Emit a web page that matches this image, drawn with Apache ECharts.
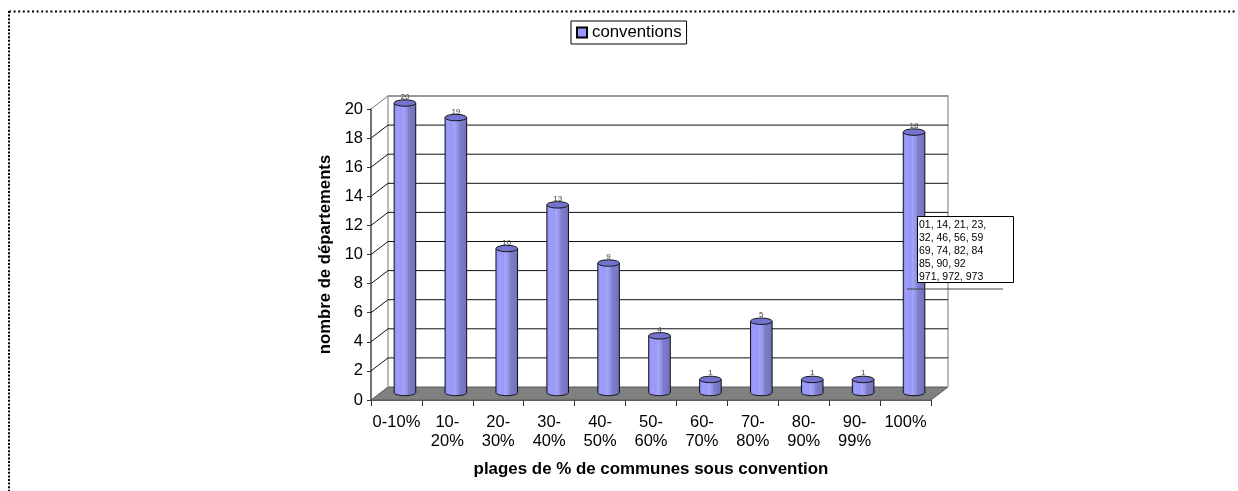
<!DOCTYPE html>
<html><head><meta charset="utf-8">
<style>html,body{margin:0;padding:0;background:#fff}#c{width:1238px;height:491px}</style>
<script src="https://cdn.jsdelivr.net/npm/echarts@6/dist/echarts.min.js"></script>
</head><body><div id="c"></div>
<script>
const categories = ['0-10%','10-\n20%','20-\n30%','30-\n40%','40-\n50%','50-\n60%','60-\n70%','70-\n80%','80-\n90%','90-\n99%','100%'];
const conventions = [20,19,10,13,9,4,1,5,1,1,18];
const yTicks = [0,2,4,6,8,10,12,14,16,18,20];
const noteLines = ['01, 14, 21, 23,','32, 46, 56, 59','69, 74, 82, 84','85, 90, 92','971, 972, 973'];
const FONT = '"Liberation Sans", Arial, sans-serif';
const DX = 17, DY = 13;
const chart = echarts.init(document.getElementById('c'), null, {renderer:'canvas'});
const bodyFill = {type:'linear',x:0,y:0,x2:1,y2:0,colorStops:[
 {offset:0,color:'#9090f0'},{offset:0.15,color:'#9c9cff'},{offset:0.38,color:'#9898f6'},
 {offset:0.40,color:'#a8a8f6'},{offset:0.50,color:'#9c9cf0'},{offset:0.62,color:'#8e8ee2'},
 {offset:0.64,color:'#8080cc'},{offset:1,color:'#7070bc'}]};
function wall(params, api){
  const c = params.coordSys, x0=c.x, x1=c.x+c.width;
  const v = yTicks[params.dataIndex], y = api.coord([0,v])[1];
  const kids = [];
  if(params.dataIndex===0){
    const t = c.y-DY, b = c.y+c.height-DY, f = c.y+c.height;
    kids.push({type:'polygon',shape:{points:[[x0,f],[x0+DX,b],[x1+DX,b],[x1,f]]},style:{fill:'#808080',stroke:'#5a5a5a',lineWidth:1}});
    kids.push({type:'polyline',shape:{points:[[x0+DX,b],[x0+DX,t],[x1+DX,t],[x1+DX,b]]},style:{fill:'none',stroke:'#aaaaaa',lineWidth:1.6}});
  } else {
    kids.push({type:'polyline',shape:{points:[[x0,y],[x0+DX,y-DY],[x1+DX,y-DY]]},style:{fill:'none',stroke:v===20?'#777':'#111',lineWidth:1}});
  }
  return {type:'group',children:kids};
}
function bar(params, api){
  const i = api.value(0), v = api.value(1);
  const bw = api.size([1,0])[0];
  const p = api.coord([i,v]), o = api.coord([i,0]);
  const cx = p[0]+8.5, r = bw*0.212, ry = 3.2;
  const top = p[1]-6, base = o[1]-7.5;
  const S = {stroke:'#111',lineWidth:1};
  return {type:'group',children:[
    {type:'ellipse',shape:{cx:cx,cy:base,rx:r,ry:ry},style:Object.assign({fill:bodyFill},S)},
    {type:'rect',shape:{x:cx-r,y:top,width:2*r,height:base-top},style:{fill:bodyFill}},
    {type:'line',shape:{x1:cx-r,y1:top,x2:cx-r,y2:base},style:S},
    {type:'line',shape:{x1:cx+r,y1:top,x2:cx+r,y2:base},style:S},
    {type:'ellipse',shape:{cx:cx,cy:top,rx:r,ry:ry},style:Object.assign({fill:'#7474cf'},S)},
    {type:'text',style:{text:String(v),x:cx,y:top-ry+1,align:'center',verticalAlign:'bottom',font:'8px '+FONT,fill:'#444'}}
  ]};
}
chart.setOption({
  animation:false,
  backgroundColor:'#fff',
  legend:{data:['conventions'],left:571,top:21,padding:[3,5,3,5],itemWidth:10,itemHeight:10,itemGap:5,
    borderColor:'#000',borderWidth:1,backgroundColor:'#fff',borderRadius:0,
    textStyle:{fontFamily:FONT,fontSize:16.8,color:'#000'},icon:'rect'},
  grid:{left:371,top:109,width:560,height:291,containLabel:false},
  xAxis:{type:'category',data:categories,
    axisLine:{lineStyle:{color:'#333',width:1.5}},
    axisTick:{show:true,length:6,lineStyle:{color:'#333',width:1}},
    axisLabel:{fontFamily:FONT,fontSize:16.5,color:'#000',lineHeight:19,margin:13,interval:0},
    name:'plages de % de communes sous convention',nameLocation:'middle',nameGap:61,
    nameTextStyle:{fontFamily:FONT,fontSize:16.9,fontWeight:'bold',color:'#000'}},
  yAxis:{type:'value',min:0,max:20,interval:2,
    axisLine:{show:true,lineStyle:{color:'#444',width:1.5}},
    axisTick:{show:true,length:4,lineStyle:{color:'#333',width:1}},
    axisLabel:{fontFamily:FONT,fontSize:16.5,color:'#000',margin:8,padding:[2,0,0,0]},
    splitLine:{show:false},
    name:'nombre de départements',nameLocation:'middle',nameGap:37,nameRotate:90,
    nameTextStyle:{fontFamily:FONT,fontSize:16.7,fontWeight:'bold',color:'#000'}},
  series:[
    {type:'custom',name:'walls',data:yTicks,renderItem:wall,silent:true,z:1,encode:{x:-1,y:0}},
    {type:'custom',name:'conventions',data:conventions.map((v,i)=>[i,v]),renderItem:bar,z:2,
      itemStyle:{color:'#9999ff',borderColor:'#000',borderWidth:1},encode:{x:0,y:1}}
  ],
  graphic:[
    {type:'line',z:0,shape:{x1:9,y1:11.5,x2:1236,y2:11.5},style:{stroke:'#000',lineWidth:2,lineDash:[2,2.6]}},
    {type:'line',z:0,shape:{x1:9,y1:11,x2:9,y2:491},style:{stroke:'#000',lineWidth:2,lineDash:[2,1.6]}},
    {type:'line',z:100,shape:{x1:907,y1:289,x2:1003,y2:289},style:{stroke:'#444',lineWidth:1}},
    {type:'rect',z:100,shape:{x:917.5,y:216.5,width:96,height:66},style:{fill:'#fff',stroke:'#000',lineWidth:1}},
    {type:'text',z:101,left:919,top:219,style:{text:noteLines.join('\n'),font:'10.5px '+FONT,lineHeight:13,fill:'#000'}}
  ]
});
</script></body></html>
